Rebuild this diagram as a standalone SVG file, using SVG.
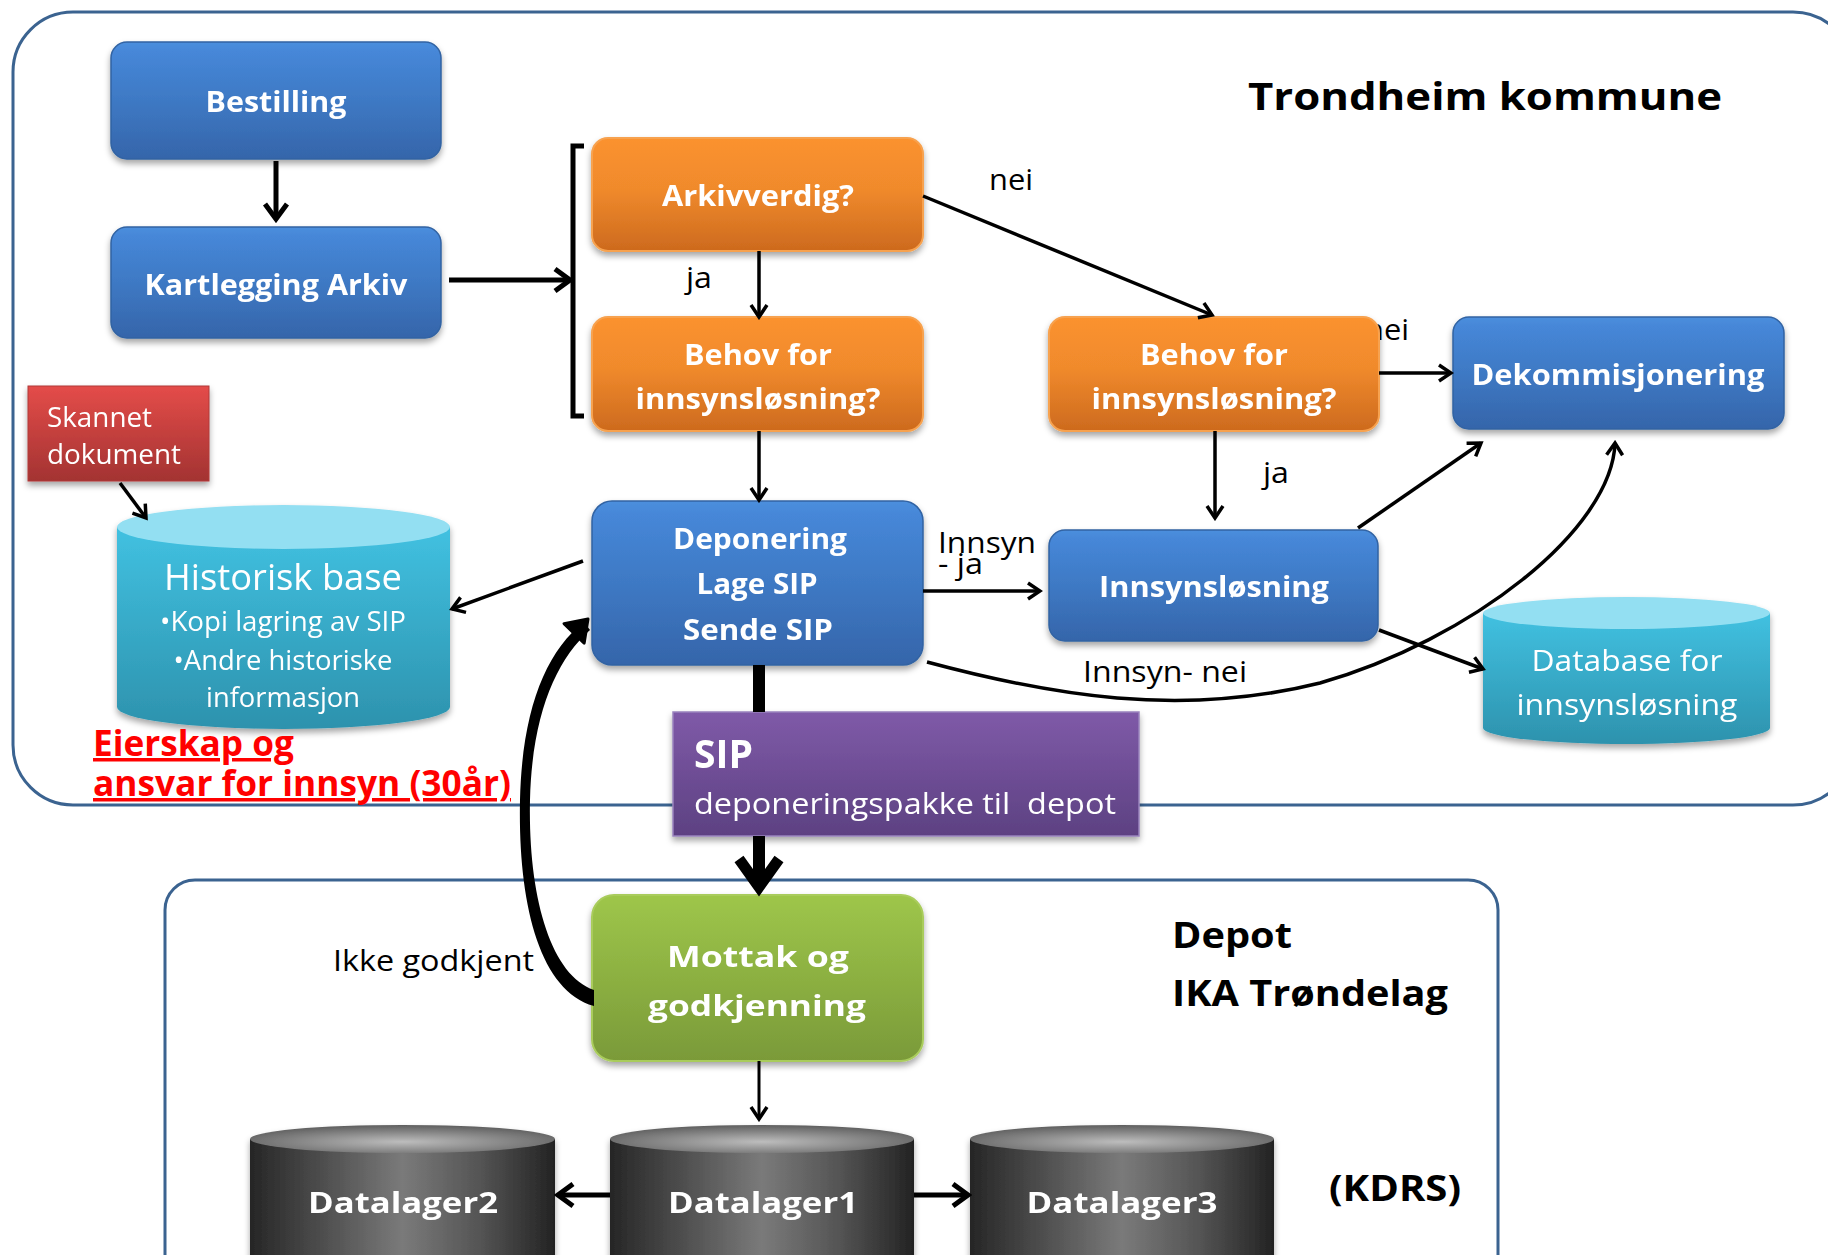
<svg xmlns="http://www.w3.org/2000/svg" width="1828" height="1255" viewBox="0 0 1828 1255">
<defs>
<linearGradient id="gBlue" x1="0" y1="0" x2="0" y2="1">
<stop offset="0" stop-color="#4c8fdd"/><stop offset="0.08" stop-color="#4687d8"/><stop offset="0.5" stop-color="#3e79c4"/><stop offset="1" stop-color="#3565aa"/>
</linearGradient>
<linearGradient id="gOrange" x1="0" y1="0" x2="0" y2="1">
<stop offset="0" stop-color="#fb922f"/><stop offset="0.45" stop-color="#f08a2c"/><stop offset="1" stop-color="#cd6a1e"/>
</linearGradient>
<linearGradient id="gGreen" x1="0" y1="0" x2="0" y2="1">
<stop offset="0" stop-color="#9ec64a"/><stop offset="1" stop-color="#7a9a39"/>
</linearGradient>
<linearGradient id="gPurple" x1="0" y1="0" x2="0" y2="1">
<stop offset="0" stop-color="#7f5aa8"/><stop offset="1" stop-color="#5d4182"/>
</linearGradient>
<linearGradient id="gRed" x1="0" y1="0" x2="0" y2="1">
<stop offset="0" stop-color="#e44c49"/><stop offset="1" stop-color="#a33332"/>
</linearGradient>
<linearGradient id="gTeal" x1="0" y1="0" x2="0" y2="1">
<stop offset="0" stop-color="#41c1e1"/><stop offset="1" stop-color="#2d92ad"/>
</linearGradient>
<linearGradient id="gDark" x1="0" y1="0" x2="1" y2="0">
<stop offset="0" stop-color="#262626"/><stop offset="0.5" stop-color="#7a7a7a"/><stop offset="0.75" stop-color="#555"/><stop offset="1" stop-color="#232323"/>
</linearGradient>
<radialGradient id="gDarkTop" cx="0.5" cy="0.6" r="0.6">
<stop offset="0" stop-color="#bdbdbd"/><stop offset="1" stop-color="#5e5e5e"/>
</radialGradient>
<filter id="sh" x="-10%" y="-10%" width="120%" height="130%">
<feDropShadow dx="0" dy="4" stdDeviation="3" flood-color="#000" flood-opacity="0.35"/>
</filter>
<marker id="mThin" markerUnits="userSpaceOnUse" markerWidth="22" markerHeight="22" viewBox="0 0 22 22" refX="19" refY="11" orient="auto">
<path d="M7,3 L19,11 L7,19" fill="none" stroke="#000" stroke-width="3.5"/>
</marker>
<marker id="mThick" markerUnits="userSpaceOnUse" markerWidth="28" markerHeight="28" viewBox="0 0 28 28" refX="24" refY="14" orient="auto">
<path d="M9,3 L24,14 L9,25" fill="none" stroke="#000" stroke-width="5"/>
</marker>
<marker id="mBig" markerUnits="userSpaceOnUse" markerWidth="36" markerHeight="36" viewBox="0 0 36 36" refX="30" refY="18" orient="auto">
<path d="M10,4 L30,18 L10,32 Z" fill="#000" stroke="#000" stroke-width="3" stroke-linejoin="round"/>
</marker>
<style>
.ff{font-family:"Open Sans","Liberation Sans",sans-serif}
.w{fill:#fff}
.k{fill:#000}
.b{font-weight:700}
.nl{font-size:28px;font-weight:700;fill:#fff;text-anchor:middle}
.lab{font-size:30px;fill:#000}
.blue{fill:url(#gBlue);stroke:#3163a3;stroke-width:1.5}
.orange{fill:url(#gOrange);stroke:#f7a24f;stroke-width:2}
.cont{fill:none;stroke:#3b6390;stroke-width:3}
.ln{fill:none;stroke:#000}
</style>
</defs>
<rect width="1828" height="1255" fill="#fff"/>

<g id="containers">
<rect id="trondheim" class="cont" x="13" y="12" width="1840" height="793" rx="60"/>
<rect id="depot" class="cont" x="165" y="880" width="1333" height="420" rx="30"/>
</g>

<g id="behind-labels" class="ff">
<text class="lab" x="1365" y="340" textLength="44" lengthAdjust="spacingAndGlyphs">nei</text>
</g>

<g id="nodes" class="ff">
<g id="bestilling" filter="url(#sh)">
<rect class="blue" x="111" y="42" width="330" height="117" rx="16"/>
<text class="nl" x="276" y="112" textLength="141" lengthAdjust="spacingAndGlyphs">Bestilling</text>
</g>
<g id="kartlegging" filter="url(#sh)">
<rect class="blue" x="111" y="227" width="330" height="111" rx="16"/>
<text class="nl" x="276" y="295" textLength="263" lengthAdjust="spacingAndGlyphs">Kartlegging Arkiv</text>
</g>
<g id="skannet" filter="url(#sh)">
<rect x="28" y="386" width="181" height="95" fill="url(#gRed)" stroke="#b03a38" stroke-width="1"/>
<text class="w" font-size="27" x="47" y="427" textLength="105" lengthAdjust="spacingAndGlyphs">Skannet</text>
<text class="w" font-size="27" x="47" y="464" textLength="134" lengthAdjust="spacingAndGlyphs">dokument</text>
</g>
<g id="historisk" filter="url(#sh)">
<path d="M117,527 L117,707 A166.5,22 0 0 0 450,707 L450,527 Z" fill="url(#gTeal)"/>
<ellipse cx="283.5" cy="527" rx="166.5" ry="22" fill="#93dff2"/>
<text class="w" font-size="36" text-anchor="middle" x="283" y="590" textLength="238" lengthAdjust="spacingAndGlyphs">Historisk base</text>
<text class="w" font-size="27" text-anchor="middle" x="283" y="631" textLength="246" lengthAdjust="spacingAndGlyphs">•Kopi lagring av SIP</text>
<text class="w" font-size="27" text-anchor="middle" x="283" y="670" textLength="219" lengthAdjust="spacingAndGlyphs">•Andre historiske</text>
<text class="w" font-size="27" text-anchor="middle" x="283" y="707" textLength="154" lengthAdjust="spacingAndGlyphs">informasjon</text>
</g>
<g id="arkivverdig" filter="url(#sh)">
<rect class="orange" x="592" y="138" width="331" height="113" rx="16"/>
<text class="nl" x="758" y="206" textLength="192" lengthAdjust="spacingAndGlyphs">Arkivverdig?</text>
</g>
<g id="behov1" filter="url(#sh)">
<rect class="orange" x="592" y="317" width="331" height="114" rx="16"/>
<text class="nl" x="758" y="365" textLength="148" lengthAdjust="spacingAndGlyphs">Behov for</text>
<text class="nl" x="758" y="409" textLength="245" lengthAdjust="spacingAndGlyphs">innsynsløsning?</text>
</g>
<g id="behov2" filter="url(#sh)">
<rect class="orange" x="1049" y="317" width="330" height="114" rx="16"/>
<text class="nl" x="1214" y="365" textLength="148" lengthAdjust="spacingAndGlyphs">Behov for</text>
<text class="nl" x="1214" y="409" textLength="245" lengthAdjust="spacingAndGlyphs">innsynsløsning?</text>
</g>
<g id="dekommisjonering" filter="url(#sh)">
<rect class="blue" x="1453" y="317" width="331" height="112" rx="16"/>
<text class="nl" x="1618" y="385" textLength="293" lengthAdjust="spacingAndGlyphs">Dekommisjonering</text>
</g>
<g id="deponering" filter="url(#sh)">
<rect class="blue" x="592" y="501" width="331" height="164" rx="20"/>
<text class="nl" x="760" y="549" textLength="174" lengthAdjust="spacingAndGlyphs">Deponering</text>
<text class="nl" x="757" y="594" textLength="121" lengthAdjust="spacingAndGlyphs">Lage SIP</text>
<text class="nl" x="758" y="640" textLength="150" lengthAdjust="spacingAndGlyphs">Sende SIP</text>
</g>
<g id="innsynslosning" filter="url(#sh)">
<rect class="blue" x="1049" y="530" width="329" height="111" rx="16"/>
<text class="nl" x="1214" y="597" textLength="230" lengthAdjust="spacingAndGlyphs">Innsynsløsning</text>
</g>
<g id="database" filter="url(#sh)">
<path d="M1483,613 L1483,728 A143.5,16 0 0 0 1770,728 L1770,613 Z" fill="url(#gTeal)"/>
<ellipse cx="1626.5" cy="613" rx="143.5" ry="16" fill="#93dff2"/>
<text class="w" font-size="30" text-anchor="middle" x="1627" y="671" textLength="191" lengthAdjust="spacingAndGlyphs">Database for</text>
<text class="w" font-size="30" text-anchor="middle" x="1627" y="715" textLength="221" lengthAdjust="spacingAndGlyphs">innsynsløsning</text>
</g>
<g id="sip" filter="url(#sh)">
<rect x="673" y="712" width="466" height="124" fill="url(#gPurple)" stroke="#9983bd" stroke-width="1.5"/>
<text class="w b" font-size="40" x="694" y="768" textLength="59" lengthAdjust="spacingAndGlyphs">SIP</text>
<text class="w" font-size="30" x="694" y="814" textLength="422" lengthAdjust="spacingAndGlyphs" xml:space="preserve">deponeringspakke til  depot</text>
</g>
<g id="mottak" filter="url(#sh)">
<rect x="592" y="895" width="331" height="166" rx="22" fill="url(#gGreen)" stroke="#a9cc5c" stroke-width="2"/>
<text class="nl" font-size="33" x="758" y="967" textLength="182" lengthAdjust="spacingAndGlyphs">Mottak og</text>
<text class="nl" font-size="33" x="757" y="1016" textLength="218" lengthAdjust="spacingAndGlyphs">godkjenning</text>
</g>
<g id="datalager2" filter="url(#sh)">
<path d="M250,1139 L250,1270 L555,1270 L555,1139 Z" fill="url(#gDark)"/>
<ellipse cx="402.5" cy="1139" rx="152.5" ry="14" fill="url(#gDarkTop)"/>
<text class="nl" font-size="31" x="403" y="1213" textLength="190" lengthAdjust="spacingAndGlyphs">Datalager2</text>
</g>
<g id="datalager1" filter="url(#sh)">
<path d="M610,1139 L610,1270 L914,1270 L914,1139 Z" fill="url(#gDark)"/>
<ellipse cx="762" cy="1139" rx="152" ry="14" fill="url(#gDarkTop)"/>
<text class="nl" font-size="31" x="763" y="1213" textLength="190" lengthAdjust="spacingAndGlyphs">Datalager1</text>
</g>
<g id="datalager3" filter="url(#sh)">
<path d="M970,1139 L970,1270 L1274,1270 L1274,1139 Z" fill="url(#gDark)"/>
<ellipse cx="1122" cy="1139" rx="152" ry="14" fill="url(#gDarkTop)"/>
<text class="nl" font-size="31" x="1122" y="1213" textLength="191" lengthAdjust="spacingAndGlyphs">Datalager3</text>
</g>
</g>

<g id="connectors">
<line class="ln" stroke-width="5" x1="276" y1="161" x2="276" y2="219" marker-end="url(#mThick)"/>
<line class="ln" stroke-width="5" x1="449" y1="280" x2="570" y2="280" marker-end="url(#mThick)"/>
<path class="ln" stroke-width="5" d="M584,146 L573,146 L573,416 L584,416"/>
<line class="ln" stroke-width="3.5" x1="759" y1="251" x2="759" y2="317" marker-end="url(#mThin)"/>
<line class="ln" stroke-width="3.5" x1="923" y1="196" x2="1212" y2="315" marker-end="url(#mThin)"/>
<line class="ln" stroke-width="3.5" x1="759" y1="431" x2="759" y2="500" marker-end="url(#mThin)"/>
<line class="ln" stroke-width="3.5" x1="1379" y1="373" x2="1451" y2="373" marker-end="url(#mThin)"/>
<line class="ln" stroke-width="3.5" x1="1215" y1="431" x2="1215" y2="518" marker-end="url(#mThin)"/>
<line class="ln" stroke-width="3.5" x1="583" y1="561" x2="452" y2="609" marker-end="url(#mThin)"/>
<line class="ln" stroke-width="3.5" x1="120" y1="483" x2="146" y2="518" marker-end="url(#mThin)"/>
<line class="ln" stroke-width="3.5" x1="923" y1="591" x2="1040" y2="591" marker-end="url(#mThin)"/>
<line class="ln" stroke-width="3.5" x1="1358" y1="528" x2="1481" y2="443" marker-end="url(#mThin)"/>
<line class="ln" stroke-width="3.5" x1="1379" y1="630" x2="1483" y2="669" marker-end="url(#mThin)"/>
<path class="ln" stroke-width="3.5" d="M927,662 C1050,695 1180,718 1320,683 C1470,640 1612,530 1615,443" marker-end="url(#mThin)"/>
<line class="ln" stroke-width="12" x1="759" y1="665" x2="759" y2="712"/>
<line class="ln" stroke-width="12" x1="759" y1="836" x2="759" y2="886"/>
<path class="ln" stroke-width="11" d="M739,859 L759,887 L779,859"/>
<path d="M594,1006 C538,990 518,900 520,800 C522,712 545,652 584,622 L590,630 C556,660 532,715 530,800 C528,895 550,975 594,990 Z" fill="#000"/>
<path class="ln" stroke-width="1" d="M560,648 L588,619" marker-end="url(#mBig)"/>
<line class="ln" stroke-width="3" x1="759" y1="1061" x2="759" y2="1119" marker-end="url(#mThin)"/>
<line class="ln" stroke-width="5" x1="610" y1="1195" x2="558" y2="1195" marker-end="url(#mThick)"/>
<line class="ln" stroke-width="5" x1="914" y1="1195" x2="968" y2="1195" marker-end="url(#mThick)"/>
</g>

<g id="labels" class="ff">
<text class="k b" font-size="38" x="1248" y="110" textLength="474" lengthAdjust="spacingAndGlyphs">Trondheim kommune</text>
<text class="lab" x="989" y="190" textLength="44" lengthAdjust="spacingAndGlyphs">nei</text>
<text class="lab" x="686" y="288" textLength="26" lengthAdjust="spacingAndGlyphs">ja</text>
<text class="lab" x="1263" y="483" textLength="26" lengthAdjust="spacingAndGlyphs">ja</text>
<text class="lab" x="938" y="553" textLength="98" lengthAdjust="spacingAndGlyphs">Innsyn</text>
<text class="lab" x="938" y="574" textLength="45" lengthAdjust="spacingAndGlyphs">- ja</text>
<text class="lab" x="1083" y="682" textLength="164" lengthAdjust="spacingAndGlyphs">Innsyn- nei</text>
<text class="lab" x="333" y="971" textLength="201" lengthAdjust="spacingAndGlyphs">Ikke godkjent</text>
<text class="ff" fill="#ff0000" font-weight="700" font-size="35" text-decoration="underline" x="93" y="756" textLength="201" lengthAdjust="spacingAndGlyphs">Eierskap og</text>
<text class="ff" fill="#ff0000" font-weight="700" font-size="35" text-decoration="underline" x="93" y="796" textLength="418" lengthAdjust="spacingAndGlyphs">ansvar for innsyn (30år)</text>
<text class="k b" font-size="36" x="1172" y="948" textLength="120" lengthAdjust="spacingAndGlyphs">Depot</text>
<text class="k b" font-size="36" x="1172" y="1006" textLength="276" lengthAdjust="spacingAndGlyphs">IKA Trøndelag</text>
<text class="k b" font-size="36" x="1329" y="1201" textLength="132" lengthAdjust="spacingAndGlyphs">(KDRS)</text>
</g>
</svg>
